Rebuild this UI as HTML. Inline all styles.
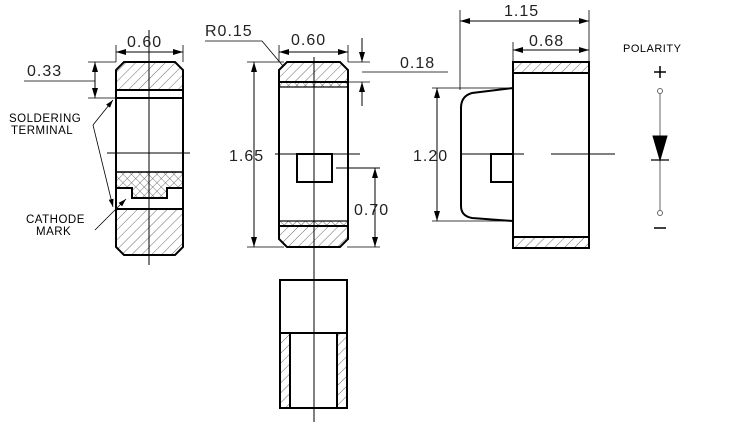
<!DOCTYPE html>
<html><head><meta charset="utf-8"><style>html,body{margin:0;padding:0;background:#fff}svg{display:block}</style></head><body>
<svg width="743" height="433" viewBox="0 0 743 433" xmlns="http://www.w3.org/2000/svg" font-family="Liberation Sans, sans-serif">
<defs>
<pattern id="h" width="7" height="7" patternUnits="userSpaceOnUse" patternTransform="rotate(45)"><line x1="0" y1="0" x2="0" y2="7" stroke="#444" stroke-width="0.8"/></pattern>
<pattern id="x" width="6" height="6" patternUnits="userSpaceOnUse" patternTransform="rotate(45)"><path d="M0 0V6M0 0H6" stroke="#444" stroke-width="0.8" fill="none"/></pattern>
<marker id="a" viewBox="0 0 10 6" refX="10" refY="3" markerWidth="10" markerHeight="6" orient="auto-start-reverse" markerUnits="userSpaceOnUse"><path d="M0 0L10 3L0 6z" fill="#000"/></marker>
<marker id="s" viewBox="0 0 8 5" refX="8" refY="2.5" markerWidth="8" markerHeight="5" orient="auto" markerUnits="userSpaceOnUse"><path d="M0 0L8 2.5L0 5z" fill="#000"/></marker>
</defs>
<g stroke="#000" fill="none">
<path d="M124 62H175L183 70V90H116V70Z" fill="url(#h)" stroke-width="2"/>
<path d="M116 209H183V247L175 255H124L116 247Z" fill="url(#h)" stroke-width="2"/>
<path d="M116 172H183V188H167V198H132V188H116Z" fill="url(#x)" stroke-width="1.5"/>
<path d="M116 70V247M183 70V247M116 98H183M116 209H183M116 188H132V198H167V188H183" stroke-width="2"/>
<path d="M149 30V265M107 153H190" stroke-width="1"/>
<path d="M116 45V62M183 45V62" stroke-width="0.8"/>
<path d="M116 52H183" stroke-width="1" marker-start="url(#a)" marker-end="url(#a)"/>
<path d="M88 62H116M88 98H116M24 81H95" stroke-width="0.8"/>
<path d="M95 62V98" stroke-width="1" marker-start="url(#a)" marker-end="url(#a)"/>
<path d="M93 125L113 100" stroke-width="0.8" marker-end="url(#s)"/>
<path d="M93 125L113 207" stroke-width="0.8" marker-end="url(#s)"/>
<path d="M95 230L126 199" stroke-width="0.8" marker-end="url(#s)"/>
<path d="M287 62H340L348 70V82H279V70Z" fill="url(#h)" stroke-width="2"/>
<rect x="279" y="82" width="69" height="5" fill="url(#x)" stroke-width="1.2"/>
<rect x="279" y="221" width="69" height="5" fill="url(#x)" stroke-width="1.2"/>
<path d="M279 226H348V239L340 247H287L279 239Z" fill="url(#h)" stroke-width="2"/>
<path d="M279 70V239M348 70V239" stroke-width="2"/>
<rect x="297" y="154" width="35" height="28" stroke-width="2"/>
<path d="M314 57V410M275 154H360M336 168H380" stroke-width="1"/>
<path d="M279 45V62M348 45V62" stroke-width="0.8"/>
<path d="M279 52H348" stroke-width="1" marker-start="url(#a)" marker-end="url(#a)"/>
<path d="M247 62H284M247 247H284" stroke-width="0.8"/>
<path d="M254 62V247" stroke-width="1" marker-start="url(#a)" marker-end="url(#a)"/>
<path d="M205 41H262L283 66" stroke-width="0.8"/>
<path d="M348 62H370M348 82H370M362 72H448" stroke-width="0.8"/>
<path d="M362 38V62" stroke-width="1" marker-end="url(#a)"/>
<path d="M362 106V82" stroke-width="1" marker-end="url(#a)"/>
<path d="M347 247H380" stroke-width="0.8"/>
<path d="M375 168V247" stroke-width="1" marker-start="url(#a)" marker-end="url(#a)"/>
<rect x="513" y="62" width="76" height="11" fill="url(#h)" stroke-width="2"/>
<rect x="513" y="237" width="76" height="11" fill="url(#h)" stroke-width="2"/>
<rect x="513" y="62" width="76" height="186" stroke-width="2"/>
<path d="M513 88L472 93Q461 96 461 108V206Q461 216 472 218L513 221" stroke-width="2"/>
<rect x="491" y="154" width="22" height="28" stroke-width="2"/>
<path d="M462 154H524M551 154H615" stroke-width="1"/>
<path d="M460 10V90M589 10V62M513 42V62" stroke-width="0.8"/>
<path d="M460 21H589" stroke-width="1" marker-start="url(#a)" marker-end="url(#a)"/>
<path d="M513 50H589" stroke-width="1" marker-start="url(#a)" marker-end="url(#a)"/>
<path d="M432 88H513M432 221H513" stroke-width="0.8"/>
<path d="M437 88V221" stroke-width="1" marker-start="url(#a)" marker-end="url(#a)"/>
<path d="M660 94V210" stroke="#666" stroke-width="1"/>
<circle cx="660" cy="91" r="2.5" stroke="#666" fill="#fff"/>
<circle cx="660" cy="213" r="2.5" stroke="#666" fill="#fff"/>
<path d="M653 136H667L660 160Z" fill="#000" stroke-width="1"/>
<path d="M651 160H669" stroke-width="1.2"/>
<rect x="280" y="333" width="10" height="75" fill="url(#h)" stroke="none"/>
<rect x="337" y="333" width="10" height="75" fill="url(#h)" stroke="none"/>
<rect x="280" y="280" width="67" height="128" stroke-width="2"/>
<path d="M280 333H347M290 333V408M337 333V408" stroke-width="2"/>
</g>
<path d="M314 293V308M314 322V422" stroke="#000" stroke-width="1" fill="none"/>
<g font-size="16" fill="#222" letter-spacing="1">
<text x="127" y="47">0.60</text>
<text x="27" y="76">0.33</text>
<text x="291" y="45">0.60</text>
<text x="205" y="36">R0.15</text>
<text x="400" y="68">0.18</text>
<text x="229" y="161">1.65</text>
<text x="354" y="215">0.70</text>
<text x="504" y="16">1.15</text>
<text x="529" y="46">0.68</text>
<text x="413" y="161">1.20</text>
</g>
<g font-size="11.5" fill="#000" letter-spacing="0.5">
<text x="9" y="122">SOLDERING</text>
<text x="11" y="134">TERMINAL</text>
<text x="26" y="223">CATHODE</text>
<text x="36" y="235">MARK</text>
<text x="623" y="52" font-size="11">POLARITY</text>
</g>
<path d="M654 72H666M660 66V78" stroke="#000" stroke-width="1.5"/>
<path d="M654 228H666" stroke="#000" stroke-width="1.5"/>
</svg>
</body></html>
